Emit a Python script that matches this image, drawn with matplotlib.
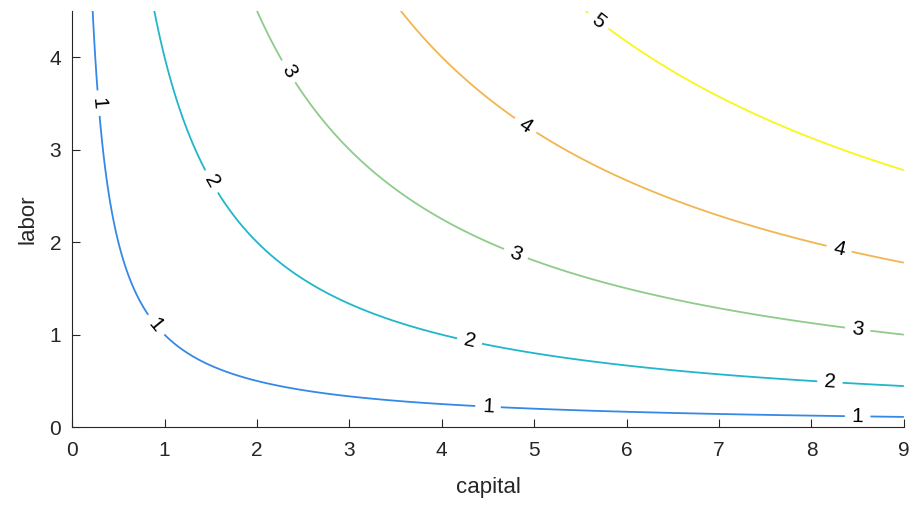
import numpy as np
import matplotlib
matplotlib.use("Agg")
import matplotlib.pyplot as plt

plt.rcParams['font.family'] = ['Liberation Sans', 'DejaVu Sans']

# production function: output = capital^0.5 * labor^0.5
alpha = 0.5
beta = 0.5
levels = [1, 2, 3, 4, 5]
level_colors = ['#3589e6', '#21b6c9', '#8fcb8a', '#f2b54f', '#f7f71a']
cap = np.linspace(0.01, 9, 600)
lab = np.linspace(0.01, 4.5, 600)

# where the inline labels sit
label_pos = [(0.27, 3.5), (0.9, 1.1), (4.5, 0.22), (8.5, 0.12),
             (1.5, 2.65), (4.3, 0.93), (8.2, 0.49),
             (2.35, 3.85), (4.8, 1.87), (8.5, 1.06),
             (4.9, 3.25), (8.3, 1.93),
             (5.7, 4.4)]

K, L = np.meshgrid(cap, lab)
Q = K ** alpha * L ** beta

fig = plt.figure(figsize=(9.13, 5.11), dpi=100)
ax = fig.add_axes([0.079, 0.164, 0.911, 0.815])
cs = ax.contour(K, L, Q, levels=levels, colors=level_colors, linewidths=1.3)
ax.clabel(cs, fmt='%d', fontsize=15, inline=True, inline_spacing=7, manual=label_pos, colors='k')

ax.set_xlim(0, 9)
ax.set_ylim(0, 4.5)
ax.set_xticks(range(0, 10))
ax.set_yticks(range(0, 5))
for s in ('top', 'right'):
    ax.spines[s].set_visible(False)
for s in ('left', 'bottom'):
    ax.spines[s].set_color('#262626')
ax.tick_params(direction='in', length=6, labelsize=15, colors='#262626')
ax.tick_params(axis='x', pad=10)
ax.tick_params(axis='y', pad=8)
ax.set_xlabel('capital', fontsize=16, color='#262626', labelpad=12)
ax.set_ylabel('labor', fontsize=16, color='#262626', labelpad=8)

fig.savefig('out.png', dpi=100)
